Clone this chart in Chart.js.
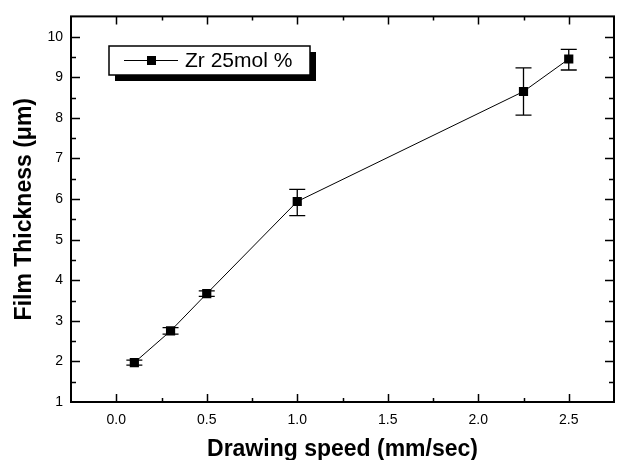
<!DOCTYPE html>
<html>
<head>
<meta charset="utf-8">
<script src="https://cdn.jsdelivr.net/npm/chart.js@4"></script>
<style>
  html, body { margin: 0; padding: 0; background: #fff; }
  #wrap { width: 624px; height: 460px; }
</style>
</head>
<body>
<div id="wrap"><canvas id="chart" width="624" height="460"></canvas></div>
<script>
// data
const speeds = [0.1, 0.3, 0.5, 1.0, 2.25, 2.5];
const thickness = [1.97, 2.75, 3.67, 5.94, 8.65, 9.45];
const errUpper = [2.03, 2.83, 3.74, 6.24, 9.23, 9.69];
const errLower = [1.91, 2.67, 3.60, 5.59, 8.07, 9.18];
const seriesLabel = 'Zr 25mol %';
const xTicks = [0, 0.5, 1.0, 1.5, 2.0, 2.5];
const yTicks = [1, 2, 3, 4, 5, 6, 7, 8, 9, 10];

const FONT = '"Liberation Sans", Arial, sans-serif';

// error bars drawn through the scales
const errorBars = {
    id: 'errorBars',
    afterDatasetsDraw(chart) {
        const ctx = chart.ctx;
        const xs = chart.scales.x, ys = chart.scales.y;
        ctx.save();
        ctx.strokeStyle = '#000';
        ctx.lineWidth = 1.3;
        for (let i = 0; i < speeds.length; i++) {
            const px = xs.getPixelForValue(speeds[i]);
            const top = ys.getPixelForValue(errUpper[i]);
            const bot = ys.getPixelForValue(errLower[i]);
            ctx.beginPath();
            ctx.moveTo(px, top); ctx.lineTo(px, bot);
            ctx.moveTo(px - 8, top); ctx.lineTo(px + 8, top);
            ctx.moveTo(px - 8, bot); ctx.lineTo(px + 8, bot);
            ctx.stroke();
        }
        ctx.restore();
    }
};

// frame with inward ticks on all four sides, plus the boxed legend
const frame = {
    id: 'frame',
    afterDraw(chart) {
        const ctx = chart.ctx;
        const a = chart.chartArea;
        const xs = chart.scales.x, ys = chart.scales.y;
        ctx.save();
        ctx.strokeStyle = '#000';
        ctx.lineWidth = 1.5;

        const xt = xs.ticks.map(t => t.value);
        const yt = ys.ticks.map(t => t.value);
        const xMinor = [], yMinor = [];
        for (let i = 0; i < xt.length - 1; i++) xMinor.push((xt[i] + xt[i + 1]) / 2);
        for (let i = 0; i < yt.length - 1; i++) yMinor.push((yt[i] + yt[i + 1]) / 2);
        xMinor.push(xt[xt.length - 1] + (xt[1] - xt[0]) / 2);
        xMinor.unshift(xt[0] - (xt[1] - xt[0]) / 2);
        yMinor.push(yt[yt.length - 1] + (yt[1] - yt[0]) / 2);

        ctx.beginPath();
        const xTick = (v, len) => {
            const p = Math.round(xs.getPixelForValue(v)) + 0.5;
            if (p <= a.left + 1 || p >= a.right - 1) return;
            ctx.moveTo(p, a.bottom); ctx.lineTo(p, a.bottom - len);
            ctx.moveTo(p, a.top); ctx.lineTo(p, a.top + len);
        };
        const yTick = (v, len) => {
            const p = Math.round(ys.getPixelForValue(v)) + 0.5;
            if (p <= a.top + 1 || p >= a.bottom - 1) return;
            ctx.moveTo(a.left, p); ctx.lineTo(a.left + len, p);
            ctx.moveTo(a.right, p); ctx.lineTo(a.right - len, p);
        };
        xt.forEach(v => xTick(v, 8));
        xMinor.forEach(v => xTick(v, 4));
        yt.forEach(v => yTick(v, 9));
        yMinor.forEach(v => yTick(v, 5));
        ctx.stroke();

        ctx.lineWidth = 2;
        ctx.strokeRect(a.left, a.top, a.right - a.left, a.bottom - a.top);

        // legend box with drop shadow
        const bx = 109, by = 46, bw = 201, bh = 29;
        ctx.fillStyle = '#000';
        ctx.fillRect(bx + 6, by + 6, bw, bh);
        ctx.fillStyle = '#fff';
        ctx.fillRect(bx, by, bw, bh);
        ctx.lineWidth = 1.5;
        ctx.strokeRect(bx, by, bw, bh);
        const ly = by + bh / 2;
        ctx.lineWidth = 1;
        ctx.beginPath();
        ctx.moveTo(bx + 15, ly); ctx.lineTo(bx + 69, ly);
        ctx.stroke();
        ctx.fillStyle = '#000';
        ctx.fillRect(bx + 38, ly - 4.5, 9, 9);
        ctx.font = '21px ' + FONT;
        ctx.textBaseline = 'middle';
        ctx.textAlign = 'left';
        ctx.fillText(seriesLabel, bx + 76, ly + 1);
        ctx.restore();
    }
};

const ctx = document.getElementById('chart').getContext('2d');
new Chart(ctx, {
    type: 'line',
    data: {
        datasets: [{
            label: seriesLabel,
            data: speeds.map((s, i) => ({ x: s, y: thickness[i] })),
            borderColor: '#000',
            borderWidth: 1,
            backgroundColor: '#000',
            pointStyle: 'rect',
            pointRadius: 6.5,
            pointBorderWidth: 0,
            tension: 0,
            fill: false
        }]
    },
    options: {
        responsive: false,
        animation: false,
        layout: { padding: { top: 9, right: 10, left: 0, bottom: 0 } },
        plugins: {
            legend: { display: false },
            tooltip: { enabled: false }
        },
        scales: {
            x: {
                type: 'linear',
                min: -0.25,
                max: 2.75,
                grid: { display: false, drawTicks: false },
                border: { display: false },
                afterBuildTicks: s => { s.ticks = xTicks.map(v => ({ value: v })); },
                ticks: {
                    padding: 10,
                    color: '#000',
                    font: { family: FONT, size: 14 },
                    callback: v => v.toFixed(1)
                },
                title: {
                    display: true,
                    text: 'Drawing speed (mm/sec)',
                    color: '#000',
                    font: { family: FONT, size: 23, weight: 'bold' },
                    padding: { top: 0, bottom: -3 }
                },
                afterFit: s => { s.height = 58; }
            },
            y: {
                type: 'linear',
                min: 1,
                max: 10.5,
                grid: { display: false, drawTicks: false },
                border: { display: false },
                afterBuildTicks: s => { s.ticks = yTicks.map(v => ({ value: v })); },
                ticks: {
                    padding: 8,
                    color: '#000',
                    font: { family: FONT, size: 14 },
                    callback: v => v
                },
                title: {
                    display: true,
                    text: 'Film Thickness (μm)',
                    color: '#000',
                    font: { family: FONT, size: 23, weight: 'bold' },
                    padding: { top: 11, bottom: 0 }
                },
                afterFit: s => { s.width = 71; }
            }
        }
    },
    plugins: [errorBars, frame]
});
</script>
</body>
</html>
